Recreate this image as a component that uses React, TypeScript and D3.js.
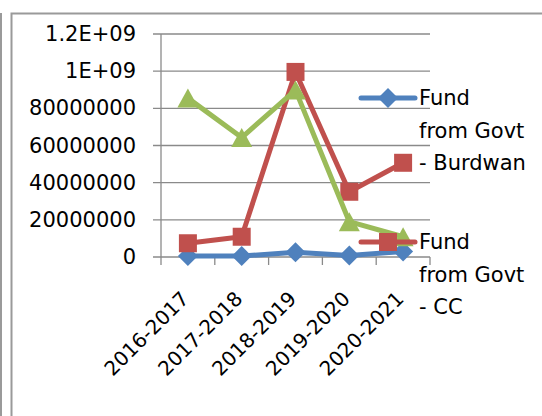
import React from 'react';
import * as d3 from 'd3';

const categories = ['2016-2017', '2017-2018', '2018-2019', '2019-2020', '2020-2021'];
const fundBurdwan = [5e6, 5e6, 25e6, 8e6, 30e6];
const fundCC = [74e6, 109e6, 996e6, 351e6, 507e6];
const fundOther = [855e6, 643e6, 898e6, 190e6, 109e6];
const yTickValues = [0, 2e8, 4e8, 6e8, 8e8, 1e9, 1.2e9];
const yTickLabels = ['0', '20000000', '40000000', '60000000', '80000000', '1E+09', '1.2E+09'];
const legendBurdwan = ['Fund', 'from Govt', '- Burdwan'];
const legendCC = ['Fund', 'from Govt', '- CC'];

const BLUE = '#4F81BD';
const RED = '#C0504D';
const GREEN = '#9BBB59';
const GRID = '#8a8a8a';
const FONT = 'DejaVu Sans';

const diamond = (cx: number, cy: number, r: number) =>
  `M${cx},${cy - r}L${cx + r},${cy}L${cx},${cy + r}L${cx - r},${cy}Z`;
const square = (cx: number, cy: number, h: number) =>
  `M${cx - h},${cy - h}H${cx + h}V${cy + h}H${cx - h}Z`;
const triangle = (cx: number, cy: number, w: number, h: number) =>
  `M${cx},${cy - h / 2}L${cx + w / 2},${cy + h / 2}L${cx - w / 2},${cy + h / 2}Z`;

export default function App() {
  const x = d3.scaleBand<string>().domain(categories).range([161, 430]);
  const y = d3.scaleLinear().domain([0, 1.2e9]).range([257, 34]);
  const cx = (c: string) => (x(c) as number) + x.bandwidth() / 2;
  const line = d3
    .line<number>()
    .x((_, i) => cx(categories[i]))
    .y((d) => y(d));

  const x0 = 161;
  const x1 = 430;
  const y0 = y(0);

  return (
    <svg
      width={542}
      height={416}
      style={{ position: 'absolute', left: 0, top: 0, background: '#fff' }}
      fontFamily={FONT}
    >
      <rect x={0} y={0} width={542} height={416} fill="#fff" />
      {/* frames */}
      <line x1={1} y1={13} x2={1} y2={416} stroke="#9a9a9a" strokeWidth={2} />
      <path d={`M11.5,416V13.5H542`} fill="none" stroke="#9a9a9a" strokeWidth={2} />

      {/* gridlines & y ticks */}
      {yTickValues.map((v, i) => (
        <g key={i}>
          <line x1={153} x2={x1} y1={y(v)} y2={y(v)} stroke={GRID} strokeWidth={1.3} />
          <text
            x={136}
            y={y(v)}
            textAnchor="end"
            dominantBaseline="central"
            fontSize={21}
            fill="#000"
          >
            {yTickLabels[i]}
          </text>
        </g>
      ))}
      {/* y axis */}
      <line x1={x0} x2={x0} y1={y(1.2e9)} y2={y0} stroke={GRID} strokeWidth={1.3} />
      {/* x tick marks */}
      {[...categories.map((c) => x(c) as number), x1].map((t, i) => (
        <line key={i} x1={t} x2={t} y1={y0} y2={y0 + 8} stroke={GRID} strokeWidth={1.3} />
      ))}
      {/* x labels */}
      {categories.map((c) => (
        <text
          key={c}
          transform={`translate(${cx(c) + 2},${y0 + 43}) rotate(-45)`}
          textAnchor="end"
          fontSize={20}
          fill="#000"
        >
          {c}
        </text>
      ))}

      {/* series */}
      <path d={line(fundBurdwan) as string} fill="none" stroke={BLUE} strokeWidth={5} strokeLinejoin="round" />
      {fundBurdwan.map((v, i) => (
        <path key={'b' + i} d={diamond(cx(categories[i]), y(v), 10)} fill={BLUE} />
      ))}
      <path d={line(fundCC) as string} fill="none" stroke={RED} strokeWidth={5} strokeLinejoin="round" />
      {fundCC.map((v, i) => (
        <path key={'r' + i} d={square(cx(categories[i]), y(v), 9)} fill={RED} />
      ))}
      <path d={line(fundOther) as string} fill="none" stroke={GREEN} strokeWidth={5} strokeLinejoin="round" />
      {fundOther.map((v, i) => (
        <path key={'g' + i} d={triangle(cx(categories[i]), y(v), 21, 19)} fill={GREEN} />
      ))}

      {/* legend */}
      <line x1={361} x2={415} y1={98} y2={98} stroke={BLUE} strokeWidth={5} strokeLinecap="round" />
      <path d={diamond(388, 98, 10)} fill={BLUE} />
      {legendBurdwan.map((t, i) => (
        <text key={'lb' + i} x={419} y={98 + i * 32.5} dominantBaseline="central" fontSize={21} fill="#000">
          {t}
        </text>
      ))}
      <line x1={361} x2={415} y1={242} y2={242} stroke={RED} strokeWidth={5} strokeLinecap="round" />
      <path d={square(388, 242, 9)} fill={RED} />
      {legendCC.map((t, i) => (
        <text key={'lc' + i} x={419} y={242 + i * 32.5} dominantBaseline="central" fontSize={21} fill="#000">
          {t}
        </text>
      ))}
    </svg>
  );
}
